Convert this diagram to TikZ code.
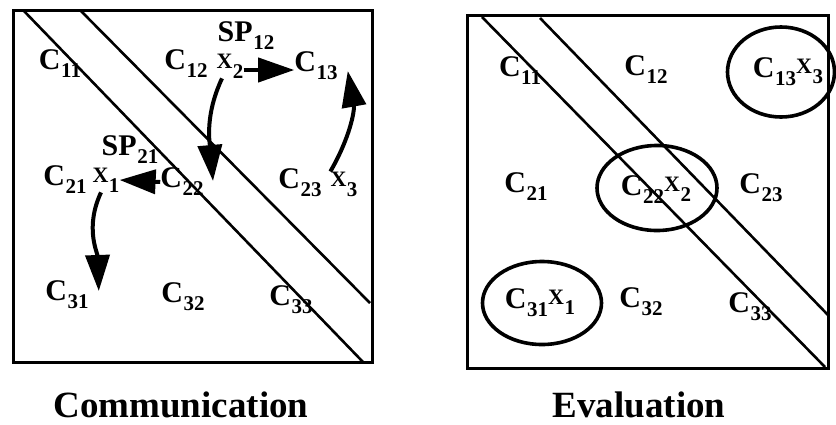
\documentclass[tikz,border=0pt]{standalone}
\usepackage{fontspec}
\setmainfont{Liberation Serif}
\usetikzlibrary{arrows.meta,shapes.geometric,calc}
\newcommand\Csb[2]{#1\kern0.5pt\raisebox{-8pt}{\fontsize{21}{21}\selectfont\bfseries #2}}
\newcommand\Xsb[1]{\raisebox{4pt}{\fontsize{22}{22}\selectfont\bfseries X}\kern0.5pt\raisebox{-6pt}{\fontsize{21}{21}\selectfont\bfseries #1}}
\begin{document}
\begin{tikzpicture}[x=1pt,y=-1pt,
  lab/.style={inner sep=0pt,font=\fontsize{30}{32}\selectfont\bfseries},
  frame/.style={line width=3pt},
  band/.style={line width=2.6pt},
  arr/.style={line width=4pt,-{Triangle[length=36pt,width=24pt]}},
  ring/.style={draw,ellipse,line width=3.6pt,inner sep=0pt},
  captext/.style={inner sep=0pt,anchor=base,text depth=0pt,font=\fontsize{37}{40}\selectfont\bfseries}]
\useasboundingbox (0,0) rectangle (836,424);
% left panel
\draw[frame] (13,10) rectangle (372,362);
\draw[band] (23,10) -- (363,362);
\draw[band] (80,10) -- (370,303);
\node[lab] (c11) at (60,64) {\Csb{C}{11}};
\node[lab] (c12) at (186,64) {\Csb{C}{12}};
\node[lab] (x2) at (230,66) {\Xsb{2}};
\node[lab] (sp12) at (246,36) {\Csb{SP}{12}};
\node[lab] (c13) at (316,66) {\Csb{C}{13}};
\node[lab] (sp21) at (130,150) {\Csb{SP}{21}};
\node[lab] (c21) at (65,180) {\Csb{C}{21}};
\node[lab] (x1) at (106,180) {\Xsb{1}};
\node[lab] (c22) at (182,182) {\Csb{C}{22}};
\node[lab] (c23) at (300,183) {\Csb{C}{23}};
\node[lab] (x3) at (344,184) {\Xsb{3}};
\node[lab] (c31) at (67,295) {\Csb{C}{31}};
\node[lab] (c32) at (183,297) {\Csb{C}{32}};
\node[lab] (c33) at (291,300) {\Csb{C}{33}};
\coordinate (d2) at (213,181);
\draw[arr] ([yshift=-4pt]x2.east) -- ([yshift=-4pt]x2.east -| c13.west);
\draw[arr] (x3.north west) to[out=60,in=-80] ($(c13.east)+(10,5)$);
\draw[arr] ($(x2.south)+(-8,0)$) to[out=-115,in=95] (d2);
\draw[arr] (c22.west) -- (x1.east);
\draw[arr] ($(x1.south)+(-5,0)$) to[out=-115,in=92] ($(c31.east)+(10,-4)$);
% right panel
\draw[frame] (467,15) rectangle (828,368);
\draw[band] (482,17) -- (825,367);
\draw[band] (540,18) -- (828,315);
\node[lab] (r11) at (520,71) {\Csb{C}{11}};
\node[lab] (r12) at (646,70) {\Csb{C}{12}};
\node[ring,minimum width=107pt,minimum height=90pt] (r13) at (781,72) {};
\node[lab] (r13t) at (788,72) {\Csb{C}{13}\Xsb{3}};
\node[lab] (r21) at (526,187) {\Csb{C}{21}};
\node[ring,minimum width=120pt,minimum height=85pt] (r22) at (657,188) {};
\node[lab] (r22t) at (656,190) {\Csb{C}{22}\Xsb{2}};
\node[lab] (r23) at (761,188) {\Csb{C}{23}};
\node[ring,minimum width=119pt,minimum height=83pt] (r31) at (542,303) {};
\node[lab] (r31t) at (540,303) {\Csb{C}{31}\Xsb{1}};
\node[lab] (r32) at (641,302) {\Csb{C}{32}};
\node[lab] (r33) at (750,307) {\Csb{C}{33}};
% captions
\node[captext] (cap1) at (181,417) {Communication};
\node[captext] (cap2) at (639,417) {Evaluation};
\end{tikzpicture}
\end{document}
